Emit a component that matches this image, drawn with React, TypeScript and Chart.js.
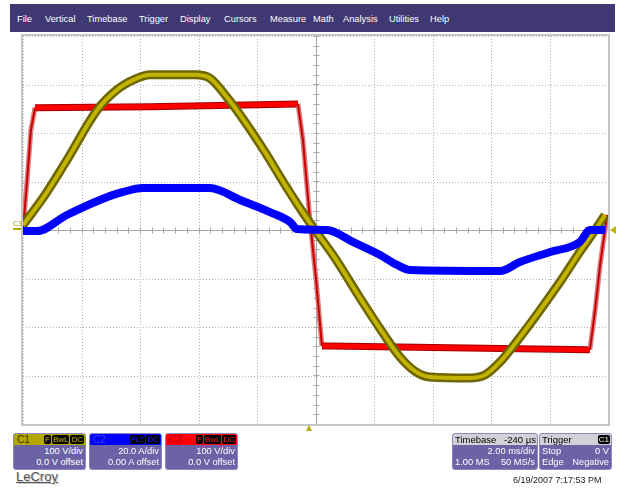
import React, { useEffect, useRef } from "react";
import { Chart, registerables } from "chart.js";
Chart.register(...registerables);

const menuItems = ["File", "Vertical", "Timebase", "Trigger", "Display", "Cursors", "Measure", "Math", "Analysis", "Utilities", "Help"];
const menuX = [17, 45, 87, 139, 180, 224, 270, 313, 343, 389, 430];

// C1 – voltage, 100 V/div
const c1TimeMs = [-10.0, -9.25, -8.5, -7.47, -6.79, -6.17, -5.65, -4.12, -3.61, -3.03, -2.41, -1.73, -1.04, -0.53, -0.02, 0.67, 1.52, 2.38, 2.89, 3.4, 3.91, 5.28, 5.79, 6.31, 6.99, 7.68, 8.36, 9.04, 9.56, 9.9];
const c1Volts = [10, 72, 144, 247, 289, 311, 320, 320, 313, 274, 223, 161, 93, 45, 0, -58, -140, -219, -262, -291, -303, -305, -299, -272, -221, -165, -107, -45, 0, 31];
// C2 – current, 20 A/div
const c2TimeMs = [-10.0, -9.52, -8.5, -7.37, -6.58, -5.9, -3.61, -2.58, -1.56, -0.87, -0.63, 0.39, 1.28, 2.21, 2.79, 3.23, 6.31, 6.99, 8.02, 9.04, 9.38, 9.9];
const c2Amps = [-0.4, -0.4, 6.2, 12.4, 15.7, 17.3, 17.3, 12.4, 7.4, 3.3, 0.4, 0, -4.9, -10.3, -14.4, -16.5, -16.9, -13.2, -9.1, -4.9, 0, 0];
// C3 – voltage, 100 V/div
const c3TimeMs = [-10.0, -9.86, -9.73, -9.59, -5.65, -0.6, -0.43, -0.19, 0.02, 0.22, 0.5, 4.6, 9.38, 9.56, 9.73, 9.97];
const c3Volts = [0, 103, 206, 252, 254, 260, 186, 21, -103, -239, -239, -243, -247, -165, -72, 31];

const c1PerDiv = 100;
const c2PerDiv = 20;
const c3PerDiv = 100;
const timeTicksMs = [-10, -8, -6, -4, -2, 0, 2, 4, 6, 8, 10];
const divTicks = [-4, -3, -2, -1, 0, 1, 2, 3, 4];

const FONT = '"Liberation Sans", Arial, sans-serif';

const gridPlugin = {
  id: "scopeGrid",
  beforeDatasetsDraw(chart: any) {
    const { ctx, chartArea: a, scales } = chart;
    const xs = scales.x, ys = scales.y;
    ctx.save();
    ctx.fillStyle = "#ffffff";
    ctx.fillRect(a.left, a.top, a.right - a.left, a.bottom - a.top);
    ctx.strokeStyle = "#b4b4b4";
    ctx.lineWidth = 1;
    ctx.setLineDash([1, 2]);
    timeTicksMs.forEach((t) => {
      const x = Math.round(xs.getPixelForValue(t)) + 0.5;
      ctx.beginPath(); ctx.moveTo(x, a.top); ctx.lineTo(x, a.bottom); ctx.stroke();
    });
    divTicks.forEach((d) => {
      const y = Math.round(ys.getPixelForValue(d)) + 0.5;
      ctx.beginPath(); ctx.moveTo(a.left, y); ctx.lineTo(a.right, y); ctx.stroke();
    });
    ctx.setLineDash([]);
    ctx.strokeStyle = "#a8a8a8";
    const cx = Math.round(xs.getPixelForValue(0)) + 0.5;
    const cy = Math.round(ys.getPixelForValue(0)) + 0.5;
    ctx.beginPath(); ctx.moveTo(cx, a.top); ctx.lineTo(cx, a.bottom); ctx.stroke();
    ctx.beginPath(); ctx.moveTo(a.left, cy); ctx.lineTo(a.right, cy); ctx.stroke();
    for (let t = -10; t <= 10.001; t += 0.4) {
      const x = Math.round(xs.getPixelForValue(t)) + 0.5;
      ctx.beginPath(); ctx.moveTo(x, cy - 3); ctx.lineTo(x, cy + 3); ctx.stroke();
    }
    for (let d = -4; d <= 4.001; d += 0.2) {
      const y = Math.round(ys.getPixelForValue(d)) + 0.5;
      ctx.beginPath(); ctx.moveTo(cx - 3, y); ctx.lineTo(cx + 3, y); ctx.stroke();
    }
    ctx.restore();
  },
  afterDraw(chart: any) {
    const { ctx, chartArea: a } = chart;
    ctx.save();
    ctx.strokeStyle = "#c4c4c4";
    ctx.lineWidth = 2;
    ctx.strokeRect(a.left - 1, a.top - 1, a.right - a.left + 2, a.bottom - a.top + 2);
    ctx.restore();
  },
};

function toPoints(times: number[], vals: number[], perDiv: number) {
  return times.map((t, i) => ({ x: t, y: vals[i] / perDiv }));
}

// steep (fast edge) segments of the square-ish trace are drawn thinner/darker
function isSteep(ctx: any) {
  const dx = Math.abs(ctx.p1.x - ctx.p0.x);
  const dy = Math.abs(ctx.p1.y - ctx.p0.y);
  return dy > dx * 3;
}

function Badge({ text, color }: { text: string; color: string }) {
  return (
    <span style={{ background: "#000", color, borderRadius: 2, padding: "0 1px", fontSize: 8, lineHeight: "9px", marginLeft: 1, display: "inline-block", height: 9 }}>{text}</span>
  );
}

function ChannelPanel({ left, label, headerBg, labelColor, badges, badgeColor, line1, line2 }: any) {
  return (
    <div style={{ position: "absolute", left, top: 433, width: 73, height: 37, background: "#6b63a6", border: "1px solid #8d87c2", borderRadius: 3, overflow: "hidden", boxSizing: "border-box", fontFamily: FONT }}>
      <div style={{ height: 11, background: headerBg, display: "flex", justifyContent: "space-between", alignItems: "center", padding: "0 1px 0 3px" }}>
        <span style={{ color: labelColor, fontSize: 10, lineHeight: "11px" }}>{label}</span>
        <span style={{ display: "flex" }}>{badges.map((b: string) => <Badge key={b} text={b} color={badgeColor} />)}</span>
      </div>
      <div style={{ color: "#fff", fontSize: 9.3, textAlign: "right", padding: "1px 2px 0 2px", lineHeight: "11px" }}>
        <div>{line1}</div>
        <div>{line2}</div>
      </div>
    </div>
  );
}

function InfoPanel({ left, width, headLeft, headRight, rows }: any) {
  return (
    <div style={{ position: "absolute", left, top: 433, width, height: 37, background: "#6b63a6", border: "1px solid #8d87c2", borderRadius: 3, overflow: "hidden", boxSizing: "border-box", fontFamily: FONT }}>
      <div style={{ height: 11, background: "#d2d2d6", display: "flex", justifyContent: "space-between", alignItems: "center", padding: "0 1px 0 2px", fontSize: 9.5, color: "#000", lineHeight: "11px" }}>
        <span>{headLeft}</span>
        <span>{headRight}</span>
      </div>
      <div style={{ color: "#fff", fontSize: 9.3, padding: "1px 2px 0 2px", lineHeight: "11px" }}>
        {rows.map((r: string[], i: number) => (
          <div key={i} style={{ display: "flex", justifyContent: "space-between" }}>
            <span>{r[0]}</span>
            <span>{r[1]}</span>
          </div>
        ))}
      </div>
    </div>
  );
}

export default function App() {
  const ref = useRef<HTMLCanvasElement>(null);
  useEffect(() => {
    if (!ref.current) return;
    const c1 = toPoints(c1TimeMs, c1Volts, c1PerDiv);
    const c2 = toPoints(c2TimeMs, c2Amps, c2PerDiv);
    const c3 = toPoints(c3TimeMs, c3Volts, c3PerDiv);
    const chart = new Chart(ref.current, {
      type: "line",
      data: {
        datasets: [
          { label: "C2", data: c2, borderColor: "#0000ff", borderWidth: 8, cubicInterpolationMode: "monotone", order: 0 },
          { label: "C1", data: c1, borderColor: "#c2b400", borderWidth: 4, cubicInterpolationMode: "monotone", order: 1 },
          { label: "C1 edge", data: c1, borderColor: "#6e6600", borderWidth: 9, cubicInterpolationMode: "monotone", order: 2 },
          {
            label: "C3", data: c3, borderColor: "#ff0000", borderWidth: 5, tension: 0, order: 3,
            segment: { borderColor: (c: any) => (isSteep(c) ? "#c80000" : undefined), borderWidth: (c: any) => (isSteep(c) ? 2 : undefined) },
          },
          {
            label: "C3 edge", data: c3, borderColor: "#a00000", borderWidth: 7, tension: 0, order: 4,
            segment: { borderColor: (c: any) => (isSteep(c) ? "#d88080" : undefined), borderWidth: (c: any) => (isSteep(c) ? 5 : undefined) },
          },
        ] as any,
      },
      options: {
        animation: false,
        responsive: false,
        maintainAspectRatio: false,
        layout: { padding: { left: 2, right: 2, top: 2, bottom: 2 } },
        plugins: { legend: { display: false }, tooltip: { enabled: false } },
        elements: { point: { radius: 0 }, line: { borderJoinStyle: "round", borderCapStyle: "butt" } },
        scales: {
          x: { type: "linear", min: -10, max: 10, display: false },
          y: { type: "linear", min: -4, max: 4, display: false },
        },
      },
      plugins: [gridPlugin],
    });
    return () => chart.destroy();
  }, []);

  return (
    <div style={{ position: "relative", width: 627, height: 489, background: "#fff", overflow: "hidden", fontFamily: FONT }}>
      <style>{"body{margin:0}"}</style>
      <div style={{ position: "absolute", left: 10, top: 4, width: 605, height: 28, background: "#3f3873" }} />
      {menuItems.map((m, i) => (
        <div key={m} style={{ position: "absolute", left: menuX[i], top: 13, fontSize: 9.3, color: "#fff", lineHeight: "12px", whiteSpace: "nowrap" }}>{m}</div>
      ))}
      <canvas ref={ref} width={589} height={392} style={{ position: "absolute", left: 21, top: 34 }} />
      {/* channel marker labels */}
      <div style={{ position: "absolute", left: 13, top: 220, fontSize: 7, color: "#a89a00", lineHeight: "8px" }}>C3</div>
      <div style={{ position: "absolute", left: 13, top: 228, width: 8, height: 2, background: "#b8aa00" }} />
      <div style={{ position: "absolute", left: 610, top: 226, width: 0, height: 0, borderTop: "4px solid transparent", borderBottom: "4px solid transparent", borderRight: "6px solid #c2b400" }} />
      <div style={{ position: "absolute", left: 306, top: 425, width: 0, height: 0, borderLeft: "3.5px solid transparent", borderRight: "3.5px solid transparent", borderBottom: "6px solid #b8aa00" }} />

      <ChannelPanel left={13} label="C1" headerBg="#b4a800" labelColor="#3a3400" badges={["F", "BwL", "DC"]} badgeColor="#c2b400" line1="100 V/div" line2="0.0 V offset" />
      <ChannelPanel left={89} label="C2" headerBg="#0000ff" labelColor="#3c3cff" badges={["FLT", "DC"]} badgeColor="#2020ff" line1="20.0 A/div" line2="0.00 A offset" />
      <ChannelPanel left={165} label="C3" headerBg="#ff0000" labelColor="#b00000" badges={["F", "BwL", "DC"]} badgeColor="#ff2020" line1="100 V/div" line2="0.0 V offset" />

      <InfoPanel left={452} width={86} headLeft="Timebase" headRight="-240 µs" rows={[["", "2.00 ms/div"], ["1.00 MS", "50 MS/s"]]} />
      <div style={{ position: "absolute", left: 539, top: 433, width: 73, height: 37, background: "#6b63a6", border: "1px solid #8d87c2", borderRadius: 3, overflow: "hidden", boxSizing: "border-box", fontFamily: FONT }}>
        <div style={{ height: 11, background: "#d2d2d6", display: "flex", justifyContent: "space-between", alignItems: "center", padding: "0 1px 0 2px", fontSize: 9.5, color: "#000", lineHeight: "11px" }}>
          <span>Trigger</span>
          <span style={{ background: "#000", color: "#fff", borderRadius: 2, padding: "0 1px", fontSize: 8, lineHeight: "9px", height: 9 }}>C1</span>
        </div>
        <div style={{ color: "#fff", fontSize: 9.3, padding: "1px 2px 0 2px", lineHeight: "11px" }}>
          <div style={{ display: "flex", justifyContent: "space-between" }}><span>Stop</span><span>0 V</span></div>
          <div style={{ display: "flex", justifyContent: "space-between" }}><span>Edge</span><span>Negative</span></div>
        </div>
      </div>

      <div style={{ position: "absolute", left: 16, top: 469, fontSize: 13, color: "#555", textDecoration: "underline", textShadow: "1px 1px 0 #c8c8c8", lineHeight: "16px" }}>LeCroy</div>
      <div style={{ position: "absolute", left: 513, top: 475, fontSize: 9, color: "#222", lineHeight: "11px", whiteSpace: "nowrap" }}>6/19/2007 7:17:53 PM</div>
    </div>
  );
}
